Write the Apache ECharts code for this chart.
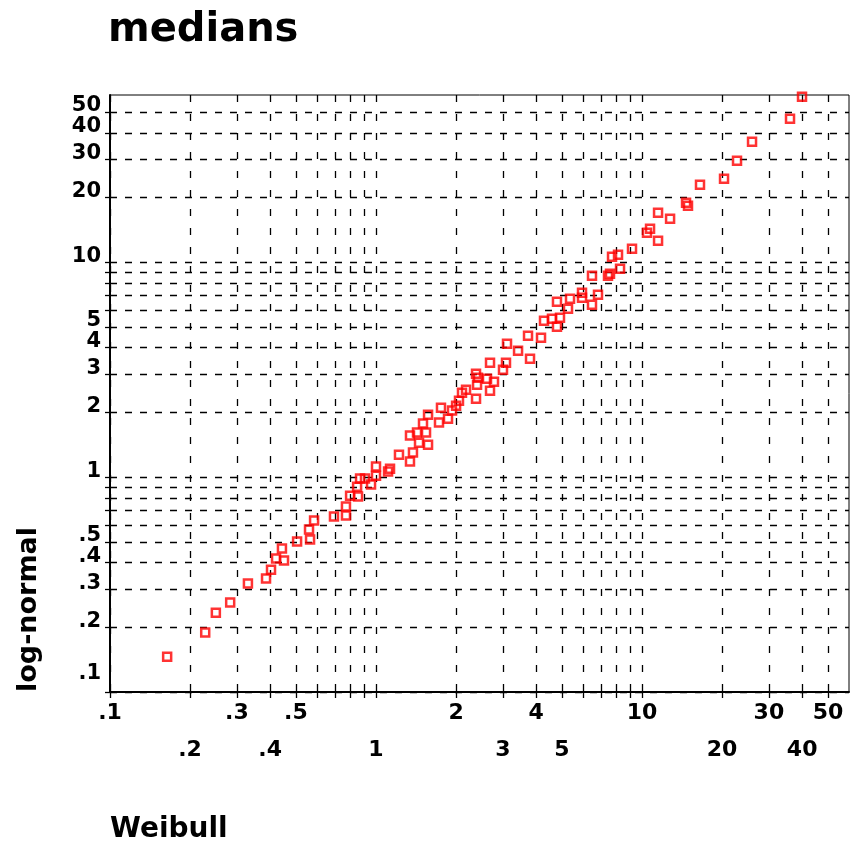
<!DOCTYPE html>
<html><head><meta charset="utf-8">
<script src="https://cdn.jsdelivr.net/npm/echarts@6/dist/echarts.min.js"></script>
<style>html,body{margin:0;padding:0;background:#fff}#c{width:850px;height:851px}</style>
</head><body><div id="c"></div>
<script>
// Weibull medians (x) and log-normal medians (y)
const weibull = [0.164,0.228,0.250,0.283,0.330,0.386,0.403,0.421,0.443,0.451,
  0.505,0.560,0.565,0.585,0.695,0.771,0.771,0.799,0.856,0.849,
  0.871,0.909,0.958,1.000,1.000,1.110,1.129,1.220,1.342,1.377,
  1.342,1.426,1.451,1.542,1.569,1.502,1.569,1.725,1.755,1.865,
  1.931,2.000,2.051,2.105,2.180,2.377,2.398,2.377,2.418,2.614,
  2.683,2.777,2.683,3.002,3.081,3.108,3.420,3.793,3.728,4.172,
  4.281,4.587,4.790,4.917,4.790,5.270,5.362,5.949,5.949,6.486,
  6.832,6.486,7.450,7.580,7.714,8.125,8.268,9.171,10.44,10.72,
  11.49,11.49,12.75,14.64,14.89,16.52,20.34,22.76,25.92,36.01,39.95];
const lognormal = [0.146,0.189,0.234,0.261,0.320,0.337,0.371,0.418,0.465,0.409,
  0.501,0.570,0.512,0.628,0.655,0.662,0.729,0.820,0.812,0.903,
  0.984,0.984,0.923,1.119,1.016,1.061,1.095,1.272,1.181,1.300,
  1.560,1.611,1.447,1.611,1.416,1.774,1.953,1.793,2.105,1.871,
  2.039,2.150,2.269,2.472,2.553,2.318,2.693,3.029,2.903,2.872,
  2.526,2.781,3.409,3.162,3.409,4.177,3.876,3.557,4.551,4.455,
  5.345,5.461,5.012,5.519,6.551,6.076,6.765,7.214,6.838,6.343,
  7.062,8.655,8.655,8.843,10.61,10.84,9.327,11.56,13.72,14.31,
  12.59,16.99,15.94,18.91,18.31,22.94,24.45,29.66,36.35,46.49,58.86];
const gridValues = [0.2,0.3,0.4,0.5,0.6,0.7,0.8,0.9,1,2,3,4,5,6,7,8,9,10,20,30,40,50];
const tickValues = [0.1].concat(gridValues);
const xLabelsRow1 = [0.1,0.3,0.5,2,4,10,30,50];
const xLabelsRow2 = [0.2,0.4,1,3,5,20,40];
const yLabels = [0.1,0.2,0.3,0.4,0.5,1,2,3,4,5,10,20,30,40,50];

function same(a,b){ return Math.abs(Math.log10(a)-Math.log10(b)) < 1e-6; }
function fmt(v){ return v < 1 ? '.' + Math.round(v*10) : String(Math.round(v)); }

const FONT = 'DejaVu Sans';
const pts = weibull.map((x,i) => [x, lognormal[i]]);

const chart = echarts.init(document.getElementById('c'));
chart.setOption({
  animation: false,
  backgroundColor: '#fff',
  title: {
    text: 'medians', left: 108, top: 11, padding: 0,
    textStyle: {fontFamily: FONT, fontWeight: 'bold', fontSize: 40, color: '#000'}
  },
  grid: {left: 110, right: 1, top: 95, bottom: 159, show: true, borderColor: '#000', borderWidth: 1},
  xAxis: {
    type: 'log', logBase: 10, min: 0.1, max: 60,
    axisLine: {show: true, lineStyle: {color: '#000', width: 2}},
    axisTick: {show: true, inside: false, length: 6, customValues: tickValues, lineStyle: {color: '#000', width: 1.3}},
    splitLine: {show: true, lineStyle: {color: '#000', width: 1.3, type: [7, 12]}},
    minorTick: {show: false}, minorSplitLine: {show: false},
    axisLabel: {
      customValues: xLabelsRow1.concat(xLabelsRow2),
      showMinLabel: true, showMaxLabel: true, hideOverlap: false,
      margin: 3, lineHeight: 37,
      fontFamily: FONT, fontWeight: 'bold', fontSize: 22, color: '#000',
      formatter: function (v) {
        const s = fmt(v);
        return xLabelsRow2.some(t => same(t, v)) ? '\n' + s : s;
      }
    }
  },
  yAxis: {
    type: 'log', logBase: 10, min: 0.1, max: 60,
    axisLine: {show: true, lineStyle: {color: '#000', width: 2}},
    axisTick: {show: true, inside: false, length: 5, customValues: tickValues, lineStyle: {color: '#000', width: 1.3}},
    splitLine: {show: true, lineStyle: {color: '#000', width: 1.3, type: [7, 8]}},
    minorTick: {show: false}, minorSplitLine: {show: false},
    axisLabel: {
      customValues: yLabels,
      showMinLabel: true, showMaxLabel: true, hideOverlap: false,
      margin: 9, lineHeight: 12, verticalAlign: 'bottom',
      fontFamily: FONT, fontWeight: 'bold', fontSize: 21, color: '#000',
      formatter: function (v) { return same(v, 0.1) ? '{up|' + fmt(v) + '}' : fmt(v); },
      rich: {up: {lineHeight: 36, fontFamily: FONT, fontWeight: 'bold', fontSize: 21, color: '#000'}}
    }
  },
  graphic: [
    {type: 'text', x: 110, y: 830, style: {text: 'Weibull', fontFamily: FONT, fontWeight: 'bold', fontSize: 28, fill: '#000', textAlign: 'left', textVerticalAlign: 'middle'}},
    {type: 'text', x: 29, y: 692, rotation: Math.PI / 2, style: {text: 'log-normal', fontFamily: FONT, fontWeight: 'bold', fontSize: 27, fill: '#000', textAlign: 'left', textVerticalAlign: 'middle'}}
  ],
  series: [{
    type: 'scatter', data: pts, symbol: 'rect', symbolSize: 8, clip: false,
    itemStyle: {color: 'rgba(0,0,0,0)', borderColor: '#ff0000', borderWidth: 2.5}
  }]
});
</script></body></html>
